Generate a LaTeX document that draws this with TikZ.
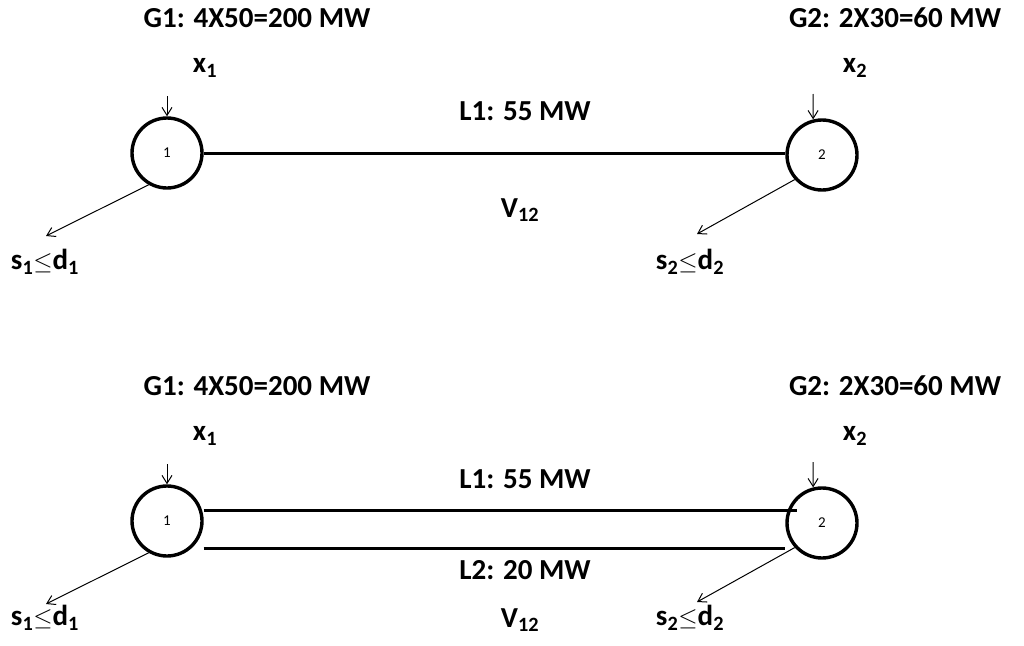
\documentclass[tikz,border=0pt]{standalone}
\usepackage{fontspec}
\setmainfont{Carlito}
\usetikzlibrary{arrows.meta}
\newcommand{\sbs}[1]{\textsubscript{#1}}
\begin{document}
\begin{tikzpicture}[x=1pt,y=-1pt,
  bus/.style={circle,draw,line width=3.4pt,minimum size=70pt,inner sep=0pt,font=\fontsize{15}{17}\selectfont},
  lbl/.style={font=\bfseries\fontsize{29}{32}\selectfont,inner sep=0pt},
  line/.style={line width=3pt},
  inj/.style={-{Straight Barb[length=8pt,width=10pt]},line width=1pt}]
\useasboundingbox (0,0) rectangle (1024,645);
\foreach \y/\s/\sy in {0/t/262,368/b/250}{
\begin{scope}[yshift=-\y pt]
\node[lbl] (g1\s) at (257,18) {G1: 4X50=200 MW};
\node[lbl] (g2\s) at (895,18) {G2: 2X30=60 MW};
\node[lbl] (x1\s) at (205,68) {x\sbs{1}};
\node[lbl] (x2\s) at (855,68) {x\sbs{2}};
\node[bus] (n1\s) at (167,153) {1};
\node[bus] (n2\s) at (822,155) {2};
\coordinate (a1\s) at (167,96);
\coordinate (a2\s) at (813,94);
\draw[inj] (a1\s) -- (n1\s.north);
\draw[inj] (a2\s) -- (n2\s.104.5);
\coordinate (e1\s) at (46,236);
\coordinate (e2\s) at (697,234);
\draw[inj] (n1\s.240) -- (e1\s);
\draw[inj] (n2\s.222) -- (e2\s);
\node[lbl] (s1\s) at (45,\sy) {s\sbs{1}$\leq$d\sbs{1}};
\node[lbl] (s2\s) at (690,\sy) {s\sbs{2}$\leq$d\sbs{2}};
\node[lbl] (l1\s) at (525,111) {L1: 55 MW};
\end{scope}}
\draw[line] (n1t.east) -- (n2t.west |- n1t.east);
\node[lbl] (v1) at (520,210) {V\sbs{12}};
\coordinate (r1) at (797,510);
\draw[line] (n1b.east |- 0,510) -- (r1);
\draw[line] (n1b.east |- 0,548) -- (n2b.west |- 0,548);
\node[lbl] (l2) at (525,570) {L2: 20 MW};
\node[lbl] (v2) at (520,620) {V\sbs{12}};
\end{tikzpicture}
\end{document}
